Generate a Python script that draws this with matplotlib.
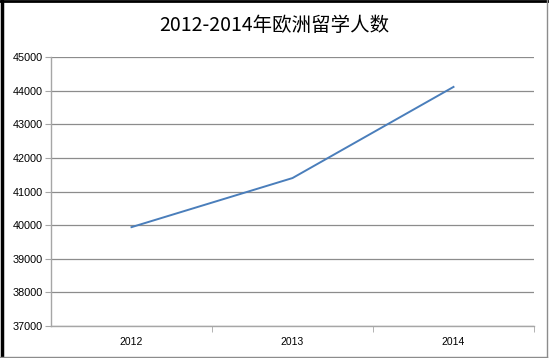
import matplotlib
matplotlib.use("Agg")
import matplotlib.pyplot as plt
from matplotlib.lines import Line2D

plt.rcParams['font.family'] = ['Noto Sans CJK SC', 'DejaVu Sans']

# 数据
years = ["2012", "2013", "2014"]
students = [39940, 41400, 44110]
title = "2012-2014年欧洲留学人数"

W, H = 549, 358
fig = plt.figure(figsize=(W / 100, H / 100), dpi=100)
ax = fig.add_axes([51 / W, 32 / H, (534 - 51) / W, (326 - 57) / H])

x = list(range(len(years)))
ax.plot(x, students, color="#4a7ebb", linewidth=1.4)

ax.set_xlim(-0.5, len(years) - 0.5)
ax.set_ylim(37000, 45000)
ax.set_yticks(range(37000, 45001, 1000))
ax.set_xticks(x)
ax.set_xticklabels(years)
ax.set_xticks([i + 0.5 for i in x], minor=True)

ax.grid(axis="y", color="#8c8c8c", linewidth=0.9)
ax.set_axisbelow(True)
for side in ("top", "right"):
    ax.spines[side].set_visible(False)
for side in ("left", "bottom"):
    ax.spines[side].set_color("#a6a6a6")
    ax.spines[side].set_linewidth(1.0)

ax.tick_params(axis="y", length=4, color="#a6a6a6", labelsize=7.8, pad=2,
               labelfontfamily="Liberation Sans")
ax.tick_params(axis="x", which="major", length=0, labelsize=7.5, pad=8,
               labelfontfamily="Liberation Sans")
ax.tick_params(axis="x", which="minor", length=4, color="#a6a6a6")

fig.text(0.5, 1 - 25 / H, title, ha="center", va="center", fontsize=14,
         fontweight="medium", color="black")

# 外框
fig.add_artist(Line2D([1.5 / W, 1.5 / W], [0, 1], color="black", linewidth=2.5,
                      transform=fig.transFigure))
fig.add_artist(Line2D([0, 1], [1 - 1 / H, 1 - 1 / H], color="black", linewidth=2,
                      transform=fig.transFigure))
fig.add_artist(Line2D([547 / W, 547 / W], [1 / H, 1], color="#8c8c8c", linewidth=1,
                      transform=fig.transFigure))
fig.add_artist(Line2D([0, 547 / W], [1.5 / H, 1.5 / H], color="#8c8c8c", linewidth=1,
                      transform=fig.transFigure))

fig.savefig("out.png", dpi=100)
